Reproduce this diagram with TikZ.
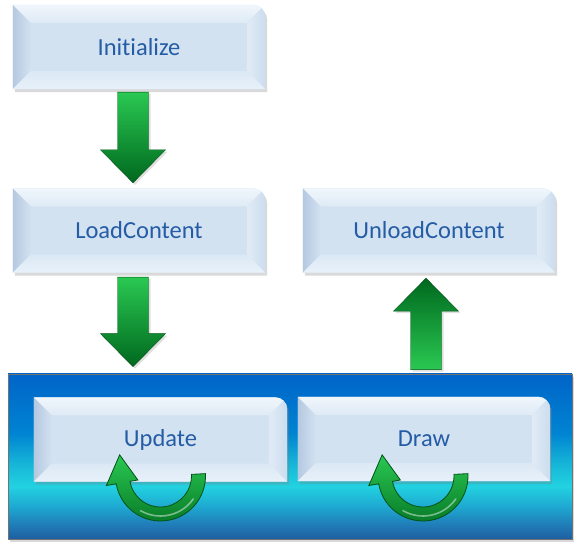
\documentclass[tikz,border=0pt]{standalone}
\usepackage{fontspec}
\setmainfont{Carlito}[Ligatures=NoCommon]
\usetikzlibrary{calc,shadows,backgrounds}

\definecolor{stageface}{RGB}{211,226,241}
\definecolor{stagetext}{RGB}{36,92,166}
\definecolor{bevelleft}{RGB}{180,200,224}
\definecolor{beveltop}{RGB}{240,246,252}
\definecolor{bevelright}{RGB}{204,221,239}
\definecolor{bevellow}{RGB}{232,241,250}
\definecolor{flowlight}{RGB}{42,200,82}
\definecolor{flowdark}{RGB}{0,104,30}
\definecolor{flowedge}{RGB}{0,82,22}
\definecolor{panelbottom}{RGB}{30,95,160}
\definecolor{paneldeep}{RGB}{32,122,182}
\definecolor{panelmid}{RGB}{30,170,210}
\definecolor{panelcyan}{RGB}{34,210,224}
\definecolor{panelsky}{RGB}{22,180,215}
\definecolor{panelblue}{RGB}{0,132,210}
\definecolor{paneltop}{RGB}{0,100,200}

\pgfdeclareverticalshading{panelshade}{100bp}{color(0bp)=(panelbottom); color(25bp)=(panelbottom);
  color(29bp)=(paneldeep); color(35bp)=(panelmid); color(41bp)=(panelcyan); color(48bp)=(panelsky);
  color(57bp)=(panelblue); color(75bp)=(paneltop); color(100bp)=(paneltop)}

\tikzset{
  stage/.style={minimum width=252pt, minimum height=84pt, inner sep=0pt,
    text=stagetext, font=\fontsize{24.5}{28}\selectfont},
  stageshadow/.style={drop shadow={shadow xshift=2pt, shadow yshift=-3pt, opacity=0.3}},
  flowdown/.style={top color=flowlight, bottom color=flowdark},
  flowup/.style={top color=flowdark, bottom color=flowlight},
  flowbase/.style={draw=flowedge, line width=0.4pt,
    drop shadow={shadow xshift=2pt, shadow yshift=-2pt, opacity=0.25}},
  loopstyle/.style={top color=flowlight, bottom color=flowdark!80!flowlight,
    draw=flowedge, line width=0.8pt}
}

% outline of a stage box, rounded at the top right only
\newcommand{\stagepath}[1]{(#1.south west) -- (#1.north west) -- ([xshift=-12pt]#1.north east)
  arc[start angle=90, end angle=0, radius=12pt] -- (#1.south east) -- cycle}

% straight block arrow, vertical, from #2 to the tip at #3
\newcommand{\blockarrow}[3][]{%
  \path[flowbase,#1] let \p1=#2, \p2=#3, \n2={\y2-33*sign(\y2-\y1)} in
    (\x1-15.5pt,\y1) -- (\x1-15.5pt,\n2) -- (\x1-32.5pt,\n2) -- (\x1,\y2)
    -- (\x1+32.5pt,\n2) -- (\x1+15.5pt,\n2) -- (\x1+15.5pt,\y1) -- cycle;}

% round arrow under a stage, #1 is its centre
\newcommand{\looparrow}[1]{%
  \path[loopstyle] ($#1+(3:45pt)$) arc[start angle=3, end angle=-170, radius=45pt]
    -- ($#1+(-170:55pt)$) -- ($#1+(-170:39pt)+(95:28pt)$) -- ($#1+(-170:23pt)$)
    -- ($#1+(-170:31pt)$) arc[start angle=-170, end angle=3, radius=31pt] -- cycle;
  \draw[white, opacity=0.45, line width=1.6pt, line cap=round]
    ($#1+(-35:40pt)$) arc[start angle=-35, end angle=-120, radius=40pt];}

\begin{document}
\begin{tikzpicture}[x=1pt, y=1pt]
  \useasboundingbox (0,0) rectangle (582,557);

  \node[stage] (initialize) at (139,510) {Initialize};
  \node[stage] (loadcontent) at (139,326.5) {LoadContent};
  \node[stage] (unloadcontent) at (429,326.5) {UnloadContent};
  \node[stage, minimum width=253pt] (update) at (160.5,117.5) {Update};
  \node[stage] (drawcall) at (424,118) {Draw};

  \begin{scope}[on background layer]
    \node[shade, shading=panelshade, draw=black!55, line width=0.6pt,
      minimum width=564pt, minimum height=165pt,
      drop shadow={shadow xshift=2pt, shadow yshift=-3pt, opacity=0.3}]
      (panel) at (290,100.5) {};
    \foreach \s in {initialize,loadcontent,unloadcontent,update,drawcall}{
      \fill[stageface, stageshadow] \stagepath{\s};
      \begin{scope}
        \clip \stagepath{\s};
        \shade[left color=bevelleft, right color=stageface]
          (\s.south west) -- (\s.north west) -- ([shift={(18pt,-18pt)}]\s.north west)
          -- ([shift={(18pt,18pt)}]\s.south west) -- cycle;
        \shade[top color=beveltop, bottom color=stageface!60!beveltop]
          (\s.north west) -- (\s.north east) -- ([shift={(-18pt,-18pt)}]\s.north east)
          -- ([shift={(18pt,-18pt)}]\s.north west) -- cycle;
        \shade[left color=stageface!70!white, right color=bevelright]
          (\s.north east) -- (\s.south east) -- ([shift={(-18pt,18pt)}]\s.south east)
          -- ([shift={(-18pt,-18pt)}]\s.north east) -- cycle;
        \shade[top color=stageface!60!bevellow, bottom color=bevellow]
          (\s.south east) -- (\s.south west) -- ([shift={(18pt,18pt)}]\s.south west)
          -- ([shift={(-18pt,18pt)}]\s.south east) -- cycle;
      \end{scope}
    }
  \end{scope}

  \blockarrow[flowdown]{([xshift=-6pt,yshift=-3pt]initialize.south)}{([yshift=5.5pt]loadcontent.north)}
  \blockarrow[flowdown]{([xshift=-6pt,yshift=-4.5pt]loadcontent.south)}{([yshift=7pt]panel.north)}
  \blockarrow[flowup]{($(unloadcontent.south |- panel.north)+(-3pt,4pt)$)}{([yshift=-5.5pt]unloadcontent.south)}

  \looparrow{(update.center)+(0,-36.5)}
  \looparrow{(drawcall.center)+(-1,-37)}
\end{tikzpicture}
\end{document}
